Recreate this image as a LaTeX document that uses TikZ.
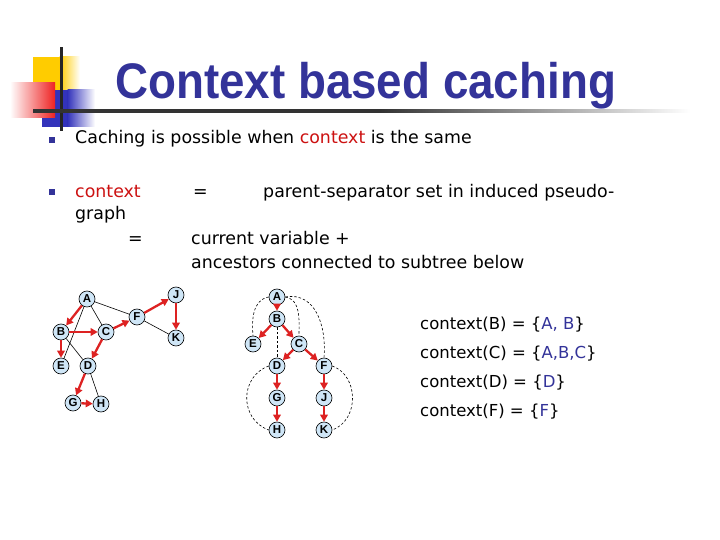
\documentclass[tikz,border=0pt]{standalone}
\usepackage{fontspec}
\usepackage{graphicx}
\setmainfont{DejaVu Sans}
\newfontfamily\titlefont{Liberation Sans}
\newfontfamily\nodefont{Liberation Sans}
\usetikzlibrary{arrows.meta}
\definecolor{titleblue}{HTML}{333399}
\definecolor{ctxred}{HTML}{CC1111}
\definecolor{arrred}{HTML}{DD2222}
\definecolor{nodefill}{HTML}{CFE6F7}
\definecolor{yel}{HTML}{FFCC00}
\definecolor{redsq}{HTML}{EE2222}
\definecolor{bluesq}{HTML}{3333BB}
\tikzset{
  vnode/.style={circle,draw=black,line width=0.6pt,fill=nodefill,inner sep=0pt,minimum size=16pt,font=\nodefont\bfseries\fontsize{11.5}{11.5}\selectfont},
  tree/.style={draw=arrred,line width=2.3pt,-{Triangle[length=7pt,width=7.5pt]}},
  back/.style={draw=black,line width=0.6pt},
  pseudo/.style={draw=black,line width=0.6pt,dash pattern=on 2.5pt off 2pt},
  body/.style={anchor=base west,inner sep=0pt,font=\fontsize{17.4}{20}\selectfont},
  ctx/.style={anchor=base west,inner sep=0pt,font=\fontsize{16.5}{19}\selectfont},
  bullet/.style={fill=titleblue,minimum size=6pt,inner sep=0pt}
}
\begin{document}
\begin{tikzpicture}[x=1pt,y=1pt]
\useasboundingbox (0,0) rectangle (720,-540);
% decoration
\fill[yel] (33,-57) rectangle (60,-97);
\shade[left color=yel,right color=white] (59.5,-57) rectangle (80,-97);
\fill[bluesq] (42,-90) rectangle (68,-127);
\shade[left color=bluesq,right color=white] (67.5,-90) rectangle (95,-127);
\shade[left color=white,right color=redsq] (10,-83) rectangle (55,-118);
\fill[black!85] (60,-47) rectangle (62.5,-131);
\fill[black!80] (33,-109.5) rectangle (380,-113);
\shade[left color=black!80,right color=white] (379.5,-109.5) rectangle (690,-113);
% title
\node[anchor=base west,inner sep=0pt,text=titleblue,font=\titlefont\bfseries\fontsize{50}{50}\selectfont] (title) at (115,-99) {\scalebox{0.915}[1]{Context based caching}};
% bullets
\node[bullet] (b1) at (51.5,-140) {};
\node[bullet] (b2) at (51.5,-192) {};
\node[body] (t1) at (75,-144) {Caching is possible when \textcolor{ctxred}{context} is the same};
\node[body,text=ctxred] (t2a) at (75,-197) {context};
\node[body] (t2b) at (193,-197) {=};
\node[body] (t2c) at (263,-197) {parent-separator set in induced pseudo-};
\node[body] (t3) at (75,-220) {graph};
\node[body] (t4a) at (128,-244) {=};
\node[body] (t4b) at (191,-244) {current variable +};
\node[body] (t5) at (191,-268) {ancestors connected to subtree below};
% left graph
\node[vnode] (lA) at (87,-299) {A};
\node[vnode] (lB) at (61,-332) {B};
\node[vnode] (lC) at (106,-332) {C};
\node[vnode] (lF) at (137,-317) {F};
\node[vnode] (lJ) at (176,-295) {J};
\node[vnode] (lK) at (176,-338) {K};
\node[vnode] (lE) at (61,-366) {E};
\node[vnode] (lD) at (88,-366) {D};
\node[vnode] (lG) at (73,-403) {G};
\node[vnode] (lH) at (101,-404) {H};
\draw[back] (lA) -- (lF);
\draw[back] (lA) -- (lC);
\draw[back] (lA) -- (lE);
\draw[back] (lB) -- (lD);
\draw[back] (lF) -- (lK);
\draw[back] (lD) -- (lH);
\draw[tree] (lA) -- (lB);
\draw[tree] (lB) -- (lC);
\draw[tree] (lB) -- (lE);
\draw[tree] (lC) -- (lD);
\draw[tree] (lC) -- (lF);
\draw[tree] (lF) -- (lJ);
\draw[tree] (lJ) -- (lK);
\draw[tree] (lD) -- (lG);
\draw[tree] (lG) -- (lH);
% right graph
\node[vnode] (rA) at (277,-297) {A};
\node[vnode] (rB) at (277,-319) {B};
\node[vnode] (rE) at (253,-344) {E};
\node[vnode] (rC) at (299,-344) {C};
\node[vnode] (rD) at (277,-366) {D};
\node[vnode] (rF) at (324,-366) {F};
\node[vnode] (rG) at (277,-398) {G};
\node[vnode] (rJ) at (324,-398) {J};
\node[vnode] (rH) at (277,-430) {H};
\node[vnode] (rK) at (324,-430) {K};
\draw[pseudo] (rA.west) to[out=190,in=95] (rE.north);
\draw[pseudo] (rA.east) to[out=-10,in=90] (rC.north);
\draw[pseudo] (rA.east) to[out=10,in=85,looseness=1.1] (rF.north);
\draw[pseudo] (rB) -- (rD);
\draw[pseudo] (rD.west) to[out=200,in=160,looseness=1.25] (rH.west);
\draw[pseudo] (rF.east) to[out=-20,in=20,looseness=1.15] (rK.east);
\draw[tree] (rA) -- (rB);
\draw[tree] (rB) -- (rE);
\draw[tree] (rB) -- (rC);
\draw[tree] (rC) -- (rD);
\draw[tree] (rC) -- (rF);
\draw[tree] (rD) -- (rG);
\draw[tree] (rG) -- (rH);
\draw[tree] (rF) -- (rJ);
\draw[tree] (rJ) -- (rK);
% contexts
\node[ctx] (c1) at (420,-329) {context(B) = \{\textcolor{titleblue}{A, B}\}};
\node[ctx] (c2) at (420,-358) {context(C) = \{\textcolor{titleblue}{A,B,C}\}};
\node[ctx] (c3) at (420,-387) {context(D) = \{\textcolor{titleblue}{D}\}};
\node[ctx] (c4) at (420,-416) {context(F) = \{\textcolor{titleblue}{F}\}};
\end{tikzpicture}
\end{document}
